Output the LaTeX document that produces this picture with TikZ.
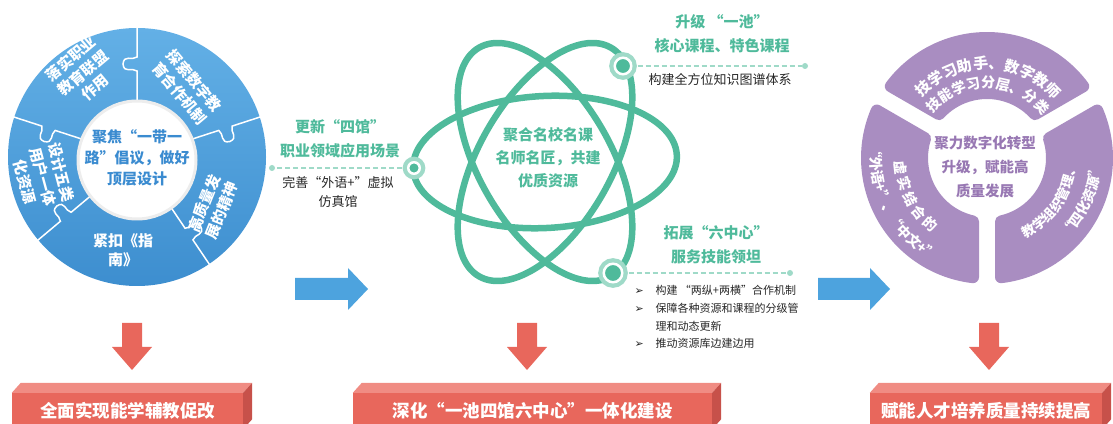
\documentclass[tikz,border=0pt]{standalone}
\usepackage{fontspec}
\usepackage{xcolor}
\usepackage{tikz}
\usetikzlibrary{calc,decorations.text}
\setmainfont{Noto Sans CJK SC}
\newfontfamily\symfont{DejaVu Sans}
\definecolor{puzlight}{HTML}{63B0E6}
\definecolor{puzdark}{HTML}{3D8ECF}
\definecolor{puztext}{HTML}{3A8BD0}
\definecolor{atomgreen}{HTML}{4FBA9B}
\definecolor{atompale}{HTML}{9FDAC8}
\definecolor{lilac}{HTML}{A98DC1}
\definecolor{lilacdark}{HTML}{9878B3}
\definecolor{arrowblue}{HTML}{4DA3DE}
\definecolor{boxred}{HTML}{E8675C}
\definecolor{boxtop}{HTML}{F08C83}
\definecolor{boxside}{HTML}{C7514A}
\newcommand{\dingarrow}{\makebox[12pt][l]{\symfont\fontsize{11}{11}\selectfont ➢}}
\tikzset{
    piece/.style={text=white, font=\bfseries\fontsize{15}{19}\selectfont, align=center},
    core/.style={font=\bfseries\fontsize{15}{21}\selectfont, align=center},
    hub/.style={circle, inner sep=0pt, minimum size=#1, fill=atomgreen,
        draw=white, line width=2.5pt, preaction={draw=atompale, line width=11pt}},
    tail/.style={circle, inner sep=0pt, minimum size=6pt, fill=atompale},
    lead/.style={atompale, line width=2pt, dash pattern=on 5pt off 3pt, shorten <=5pt},
    headline/.style={text=atomgreen, font=\bfseries\fontsize{15}{24}\selectfont, align=center},
    note/.style={text=black!85, font=\fontsize{13}{19}\selectfont, align=center},
    slab/.style={fill=boxred, minimum height=36pt, inner sep=0pt, text=white,
        font=\bfseries\fontsize{17.5}{18}\selectfont},
    arctext/.style 2 args={decorate, decoration={text along path, text align=center,
        text color=white, text={|\bfseries\fontsize{#1}{#1}\selectfont|#2}}}
}

\begin{document}
\begin{tikzpicture}[x=1pt, y=1pt]
\useasboundingbox (0,0) rectangle (1113,423);

% puzzle wheel
\coordinate (wheel) at (137,266);
\shade[top color=puzlight, bottom color=puzdark] (wheel) circle[radius=129];
\foreach \a/\s in {90/1, 18/-1, -56/1, -140/-1, 162/1}
{
    \begin{scope}[shift={(wheel)}, rotate=\a, yscale=\s]
        \draw[white, line width=1.5pt] (55,0) -- (86,0)
            .. controls (90,5) and (83,13) .. (93,14)
            .. controls (103,13) and (96,5) .. (100,0) -- (132,0);
    \end{scope}
}
\node[circle, fill=white, draw=black!7, line width=3pt, minimum size=118pt, inner sep=0pt] (wheelhub) at (137,263) {};
\node[core, text=puztext] (dingceng) at (137,265) {聚焦“一带一\\路”倡议，做好\\顶层设计};
\node[piece, rotate=40] (lianmeng) at (83,350) {落实职业\\教育联盟\\作用};
\node[piece, rotate=-50] (jizhi) at (187,336) {探索数字教\\育合作机制};
\node[piece, rotate=68] (jingshen) at (213,216) {高质量发\\展的精神};
\node[piece] (zhinan) at (123,173) {紧扣《指\\南》};
\node[piece, rotate=-75] (ziyuan) at (43,246) {设计五类\\用户一体\\化资源};

% atom
\coordinate (nucleus) at (545,261);
\foreach \t in {3,60,-60}
    \draw[atomgreen, line width=6.5pt, rotate around={\t:(nucleus)}] (nucleus) ellipse[x radius=132, y radius=66];
\node[core, text=atomgreen, font=\bfseries\fontsize{15}{23}\selectfont] (pool) at (548,265) {聚合名校名课\\名师名匠，共建\\优质资源};

\node[hub=11.5pt] (hubleft) at (414,255) {};
\node[hub=16.5pt] (hubtop) at (623,357) {};
\node[hub=18.5pt] (hubbot) at (613,150) {};
\node[tail] (endleft) at (272,255) {};
\node[tail] (endtop) at (805,357) {};
\node[tail] (endbot) at (790,150) {};
\draw[lead] (hubleft) -- (endleft);
\draw[lead] (hubtop) -- (endtop);
\draw[lead] (hubbot) -- (endbot);

\node[headline] (siguan) at (340,284) {更新“四馆”\\职业领域应用场景};
\node[note] (fangzhen) at (338,231) {完善“外语+”虚拟\\仿真馆};
\node[headline] (yichi) at (722,389) {升级 “一池”\\核心课程、特色课程};
\node[note] (tupu) at (720,343) {构建全方位知识图谱体系};
\node[headline] (liuzhongxin) at (716,178) {拓展“六中心”\\服务技能领坦};
\node[anchor=west, align=left, text=black!85, font=\fontsize{11}{17.7}\selectfont] (measures) at (631,106)
    {\dingarrow\hspace{9pt}构建 “两纵+两横”合作机制\\
     \dingarrow\hspace{9pt}保障各种资源和课程的分级管\\
     \hspace*{21pt}理和动态更新\\
     \dingarrow\hspace{9pt}推动资源库边建边用};

% purple ring
\coordinate (ring) at (987,265);
\begin{scope}[shift={(ring)}]
\foreach \g in {30,150,270}
    \filldraw[lilac, line width=12pt, line join=round]
        (\g+6.7:120) arc[start angle=\g+6.7, end angle=\g+113.3, radius=120]
        -- (\g+107.56:65) arc[start angle=\g+107.56, end angle=\g+12.44, radius=65] -- cycle;
\end{scope}
\node[core, text=lilacdark, font=\bfseries\fontsize{14.5}{23.5}\selectfont] (zhuanxing) at (985,256) {聚力数字化转型\\升级，赋能高\\质量发展};
\path[arctext={15}{技学习助手、数字教师}] ($(ring)+(167:89)$) arc[start angle=167, end angle=11, radius=89];
\path[arctext={14}{技能学习分层、分类}] ($(ring)+(167:70)$) arc[start angle=167, end angle=11, radius=70];
\path[arctext={14}{虚 实 结 合 的}] ($(ring)+(148:92)$) arc[start angle=148, end angle=268, radius=92];
\path[arctext={14}{“外语+”、“中文+”}] ($(ring)+(148:116)$) arc[start angle=148, end angle=268, radius=116];
\path[arctext={13.5}{教学组织管理、}] ($(ring)+(-94:89)$) arc[start angle=-94, end angle=26, radius=89];
\path[arctext={14}{“四化资源”}] ($(ring)+(-84:114)$) arc[start angle=-84, end angle=36, radius=114];

% arrows
\fill[arrowblue] (295,123) -- (348,123) -- (348,113) -- (368,134) -- (348,155) -- (348,145) -- (295,145) -- cycle;
\fill[arrowblue] (818,123) -- (870,123) -- (870,113) -- (890,134) -- (870,155) -- (870,145) -- (818,145) -- cycle;
\foreach \x in {132,527,989}
    \fill[boxred] (\x-10,100) -- (\x+10,100) -- (\x+10,76) -- (\x+20,76) -- (\x,53) -- (\x-20,76) -- (\x-10,76) -- cycle;

% result boxes
\node[slab, minimum width=231pt] (goal1) at (127.5,12) {全面实现能学辅教促改};
\node[slab, minimum width=359pt] (goal2) at (532.5,12) {深化“一池四馆六中心”一体化建设};
\node[slab, minimum width=232pt] (goal3) at (986,12) {赋能人才培养质量持续提高};
\foreach \b in {goal1,goal2,goal3}
{
    \fill[boxtop] (\b.north west) -- ++(9,10) -- ([shift={(9,10)}]\b.north east) -- (\b.north east) -- cycle;
    \fill[boxside] (\b.north east) -- ++(9,10) -- ([shift={(9,10)}]\b.south east) -- (\b.south east) -- cycle;
}
\end{tikzpicture}
\end{document}
